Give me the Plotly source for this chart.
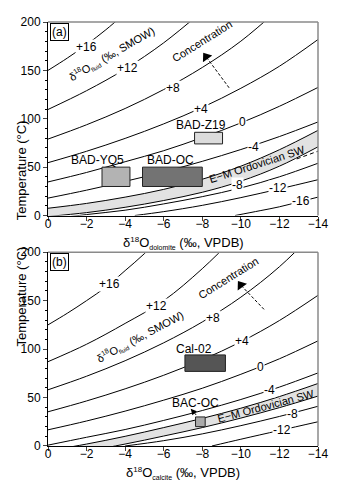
import plotly.graph_objects as go

# ---- data ----
# x: delta18O of carbonate (permil VPDB), t: temperature (deg C)
x_grid = [0, -2, -4, -6, -8, -10, -12, -14]

# (a) dolomite - fluid curves
dol_labels = ["+16", "+12", "+8", "+4", "0", "-4", "-8", "-12", "-16"]
dol_x_p16 = [0, -1, -2, -3, -4]
dol_t_p16 = [150, 162.7, 176.6, 192, 209]
dol_x_p12 = [0, -2, -4, -6, -8]
dol_t_p12 = [109.6, 129, 151.4, 178.5, 211]
dol_x_p8 = [0, -2, -4, -6, -8, -10, -12]
dol_t_p8 = [79, 93.8, 110.6, 130.2, 153, 180.2, 214]
dol_t_p4 = [54.6, 66.4, 79.7, 94.7, 111.7, 131.5, 154.3, 181.9]
dol_t_0 = [34.7, 44.5, 55.6, 67, 80.6, 95.7, 112.9, 132.4]
dol_t_m4 = [18, 26.2, 35.3, 45.1, 56, 68.2, 81.6, 96.7]
dol_t_m8 = [-4, 1, 5.5, 12, 19.5, 28.5, 40, 54]
dol_x_m12 = [-4.5, -6, -8, -10, -12, -14]
dol_t_m12 = [0, 4, 10.5, 18.5, 27.5, 37]
dol_x_m16 = [-9.7, -11, -12, -13, -14]
dol_t_m16 = [0, 5, 9, 14, 19]
dol_band_hi = [7.5, 12.5, 19, 27, 37.5, 51, 68, 88]
dol_band_lo = [-1, 3, 8.5, 15.5, 24, 35.5, 51, 71]
dol_dash_x = [-12.9, -14]
dol_dash_t = [58.5, 66.5]
dol_lab_x = [-2.0, -4.13, -6.46, -7.95, -10.08, -10.68, -9.82, -11.9, -13.1]
dol_lab_t = [174.5, 152.6, 132, 110.6, 96.6, 71.2, 32, 28, 15.5]

dol_samples = ["BAD-YQ5", "BAD-OC", "BAD-Z19"]
dol_xmin = [-2.8, -4.9, -7.6]
dol_xmax = [-4.25, -8.0, -9.05]
dol_tmin = [30, 30, 74]
dol_tmax = [50, 50, 86]

# (b) calcite - fluid curves
cal_labels = ["+16", "+12", "+8", "+4", "0", "-4", "-8", "-12"]
cal_x_p16 = [0, -1, -2, -3, -4, -5, -6]
cal_t_p16 = [125, 137, 150, 164, 181, 198.5, 219]
cal_x_p12 = [0, -2, -4, -6, -8, -10]
cal_t_p12 = [87, 105, 126.5, 150, 183, 222]
cal_t_p8 = [58, 72, 88, 106.5, 128, 153.6, 185, 224]
cal_t_p4 = [35.3, 46.5, 59, 73, 89, 107.5, 129.5, 155.5]
cal_t_0 = [16.7, 25.8, 36, 47.3, 59.6, 74, 90, 108.5]
cal_t_m4 = [0.9, 9, 17, 26.4, 36.6, 48, 60.8, 75.4]
cal_x_m8 = [-4, -6, -8, -10, -12, -14]
cal_t_m8 = [0, 5.5, 12.5, 21, 30.5, 41]
cal_x_m12 = [-8.5, -10, -12, -14]
cal_t_m12 = [0, 7, 16, 25]
cal_band_hi = [-5, 2, 10, 19, 28.5, 39, 51, 64.5]
cal_band_lo = [-8, -5, 2, 10.3, 19, 28.8, 39.6, 51.5]
cal_lab_x = [-3.19, -5.6, -8.53, -10.08, -11.03, -11.46, -12.66, -12.14]
cal_lab_t = [167.2, 144.8, 132.3, 108.5, 81.4, 57.7, 33, 17]

cal_samples = ["Cal-02", "BAC-OC"]
cal_xmin = [-7.1, -7.65]
cal_xmax = [-9.2, -8.15]
cal_tmin = [77, 20]
cal_tmax = [94, 30]

FONT = "Liberation Sans, Arial, sans-serif"

fig = go.Figure()


def curve(xs, ts, ax, dash="solid"):
    fig.add_trace(go.Scatter(x=xs, y=ts, mode="lines", line_shape="spline",
                             line=dict(color="black", width=1, dash=dash),
                             xaxis=ax[0], yaxis=ax[1], hoverinfo="skip"))


def band(hi, lo, ax):
    fig.add_trace(go.Scatter(x=x_grid + x_grid[::-1], y=hi + lo[::-1], mode="lines",
                             fill="toself", fillcolor="#e2e2e2", line=dict(width=0),
                             xaxis=ax[0], yaxis=ax[1], hoverinfo="skip"))
    curve(x_grid, hi, ax)
    curve(x_grid, lo, ax)


def boxes(x0, x1, t0, t1, colors, ax):
    for a, b, c, d, col in zip(x0, x1, t0, t1, colors):
        fig.add_trace(go.Scatter(x=[a, b, b, a, a], y=[c, c, d, d, c], mode="lines",
                                 fill="toself", fillcolor=col,
                                 line=dict(color="#222222", width=1),
                                 xaxis=ax[0], yaxis=ax[1], hoverinfo="skip"))


top = ("x", "y")
bot = ("x2", "y2")

# panel (a)
band(dol_band_hi, dol_band_lo, top)
curve(dol_dash_x, dol_dash_t, top, dash="4px,3px")
curve(dol_x_p16, dol_t_p16, top)
curve(dol_x_p12, dol_t_p12, top)
curve(dol_x_p8, dol_t_p8, top)
curve(x_grid, dol_t_p4, top)
curve(x_grid, dol_t_0, top)
curve(x_grid, dol_t_m4, top)
curve(x_grid, dol_t_m8, top)
curve(dol_x_m12, dol_t_m12, top)
curve(dol_x_m16, dol_t_m16, top)
boxes(dol_xmin, dol_xmax, dol_tmin, dol_tmax, ["#b3b3b3", "#737373", "#dcdcdc"], top)

# panel (b)
band(cal_band_hi, cal_band_lo, bot)
curve(cal_x_p16, cal_t_p16, bot)
curve(cal_x_p12, cal_t_p12, bot)
curve(x_grid, cal_t_p8, bot)
curve(x_grid, cal_t_p4, bot)
curve(x_grid, cal_t_0, bot)
curve(x_grid, cal_t_m4, bot)
curve(cal_x_m8, cal_t_m8, bot)
curve(cal_x_m12, cal_t_m12, bot)
boxes(cal_xmin, cal_xmax, cal_tmin, cal_tmax, ["#555555", "#aaaaaa"], bot)

# concentration arrows (dashed shaft + head)
for ax, tail, head, ang in [(top, (-9.39, 132), (-8.2, 164), -36), (bot, (-11.2, 141), (-10.0, 166), -36)]:
    fig.add_trace(go.Scatter(x=[tail[0], head[0]], y=[tail[1], head[1]], mode="lines",
                             line=dict(color="black", width=1, dash="3px,2px"),
                             xaxis=ax[0], yaxis=ax[1], hoverinfo="skip"))
    fig.add_trace(go.Scatter(x=[head[0]], y=[head[1]], mode="markers",
                             marker=dict(symbol="triangle-up", size=10, color="black", angle=ang),
                             xaxis=ax[0], yaxis=ax[1], hoverinfo="skip"))

ann = []


def label(txt, x, y, ax, size=12, angle=0, bg="white"):
    ann.append(dict(text=txt, x=x, y=y, xref=ax[0], yref=ax[1], showarrow=False,
                    textangle=angle, bgcolor=bg, borderpad=0,
                    font=dict(family=FONT, size=size, color="black")))


for t, x, y in zip(dol_labels, dol_lab_x, dol_lab_t):
    label(t, x, y, top, size=12)
for t, x, y in zip(cal_labels, cal_lab_x, cal_lab_t):
    label(t, x, y, bot, size=12)


def small(s, px=7):
    return "<span style='font-size:%dpx'>%s</span>" % (px, s)


fluid_txt = "δ<sup>" + small("18") + "</sup>O<sub>" + small("fluid", 6) + "</sub> (‰, SMOW)"
label(fluid_txt, -3.34, 166.5, top, size=11, angle=-30, bg=None)
label(fluid_txt, -4.79, 112.6, bot, size=11, angle=-28, bg=None)
label("Concentration", -8.0, 180, top, size=11, angle=-32, bg=None)
label("Concentration", -9.34, 173.6, bot, size=11, angle=-32, bg=None)
label("E−M Ordovician SW", -10.86, 53.6, top, size=11, angle=-18, bg=None)
label("E−M Ordovician SW", -11.28, 40.9, bot, size=11, angle=-15, bg=None)

for t, x, y in zip(dol_samples, [-2.58, -6.33, -7.93], [57.7, 57.7, 93.4]):
    label(t, x, y, top, size=12, bg=None)
label(cal_samples[0], -7.58, 100, bot, size=12, bg=None)
label(cal_samples[1], -7.67, 44.8, bot, size=12, bg=None)
ann.append(dict(x=-7.4, y=38.5, ax=-7.75, ay=30.5, xref="x2", yref="y2", axref="x2", ayref="y2",
                showarrow=True, arrowhead=2, arrowsize=1.2, arrowwidth=1, arrowcolor="black", text=""))

# panel tags
for txt, yy in [("(a)", 0.997), ("(b)", 0.455)]:
    ann.append(dict(text=txt, x=0.006, y=yy, xref="paper", yref="paper", xanchor="left", yanchor="top",
                    showarrow=False, bordercolor="black", borderwidth=1, borderpad=1, bgcolor="white",
                    font=dict(family=FONT, size=12, color="black")))

# axis titles
ann.append(dict(text="δ<sup>" + small("18", 8) + "</sup>O<sub>" + small("dolomite", 7) + "</sub> (‰, VPDB)",
                x=0.5, y=0.5035, xref="paper", yref="paper", yanchor="top",
                showarrow=False, font=dict(family=FONT, size=13, color="black")))
ann.append(dict(text="δ<sup>" + small("18", 8) + "</sup>O<sub>" + small("calcite", 7) + "</sub> (‰, VPDB)",
                x=0.5, y=-0.041, xref="paper", yref="paper", yanchor="top",
                showarrow=False, font=dict(family=FONT, size=13, color="black")))
for yy in [0.773, 0.23]:
    ann.append(dict(text="Temperature (°C)", x=-0.135, y=yy, xref="paper", yref="paper", textangle=-90,
                    showarrow=False, font=dict(family=FONT, size=13, color="black")))

xax = dict(range=[0, -14], dtick=2, ticks="outside", ticklen=4, showline=True, linecolor="black",
           linewidth=1, showgrid=False, zeroline=False, ticklabelstandoff=-7,
           tickfont=dict(family=FONT, size=12, color="black"))
yax = dict(range=[0, 200], dtick=50, ticks="outside", ticklen=4, showline=True, linecolor="black",
           linewidth=1, showgrid=False, zeroline=False, tickfont=dict(family=FONT, size=12, color="black"),
           minor=dict(dtick=10, ticks="outside", ticklen=2, tickcolor="black"))

# the page body adds an 8px offset, so the figure is 8px smaller than the window
fig.update_layout(
    width=332, height=478, margin=dict(l=40, r=22, t=7, b=40),
    paper_bgcolor="white", plot_bgcolor="white", showlegend=False,
    xaxis=dict(xax, domain=[0, 1], anchor="y"),
    yaxis=dict(yax, domain=[0.5436, 1], anchor="x"),
    xaxis2=dict(xax, domain=[0, 1], anchor="y2"),
    yaxis2=dict(yax, domain=[0, 0.4571], anchor="x2"),
    annotations=ann,
    shapes=[
        dict(type="line", xref="paper", yref="paper", x0=0, x1=1, y0=1, y1=1, line=dict(color="#8a8a8a", width=1.5)),
        dict(type="line", xref="paper", yref="paper", x0=1, x1=1, y0=0.5436, y1=1, line=dict(color="#8a8a8a", width=1.5)),
        dict(type="line", xref="paper", yref="paper", x0=0, x1=1, y0=0.4571, y1=0.4571, line=dict(color="#8a8a8a", width=1.5)),
        dict(type="line", xref="paper", yref="paper", x0=1, x1=1, y0=0, y1=0.4571, line=dict(color="#8a8a8a", width=1.5)),
    ],
)

fig.write_html("out.html")
